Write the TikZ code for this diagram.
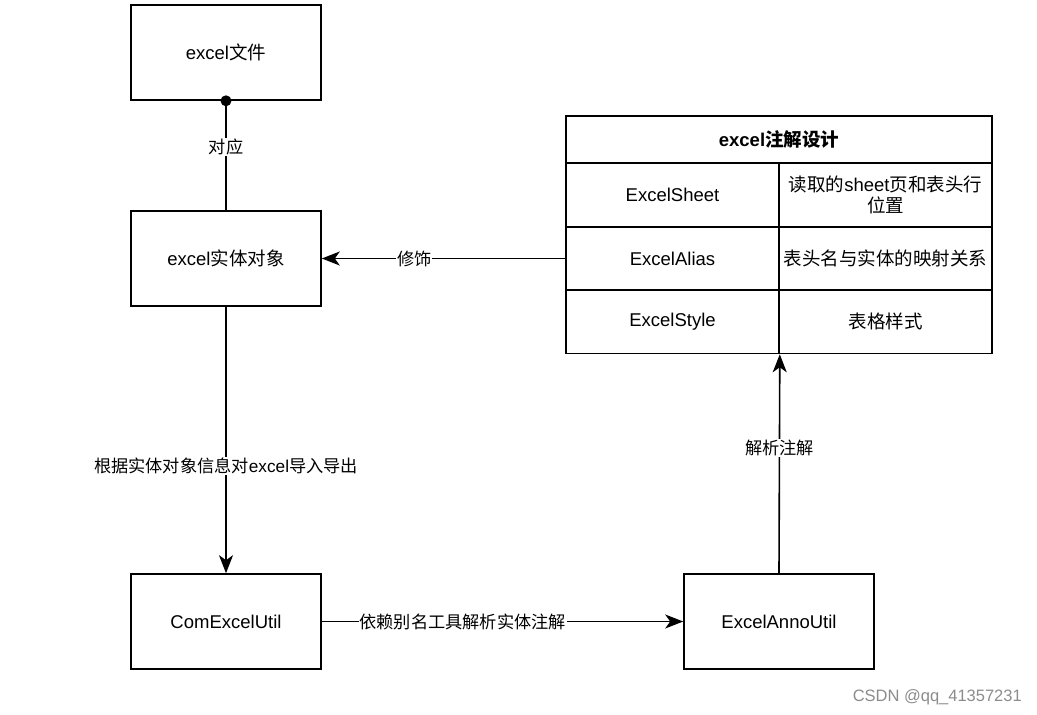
\documentclass[tikz,border=0pt]{standalone}
\usepackage{fontspec}
\setmainfont{Liberation Sans}
\newfontfamily\cjk{Noto Sans CJK SC}
\newcommand\zh[1]{{\cjk #1}}
\usetikzlibrary{arrows.meta}
\begin{document}
\begin{tikzpicture}[x=1pt,y=-1pt,
  fs/.style={font=\fontsize{18.5}{24}\selectfont},
  box/.style={draw, line width=1.6pt, minimum width=190pt, minimum height=95pt, inner sep=0pt, fs},
  cell/.style={draw, line width=1.6pt, minimum width=213pt, minimum height=63.33pt, inner sep=0pt, fs, align=center},
  hcell/.style={draw, line width=1.6pt, minimum width=426pt, minimum height=47pt, inner sep=0pt, fs},
  conn/.style={line width=1.6pt},
  arr/.style={line width=1.6pt, -{Stealth[length=18pt,width=14pt,inset=5pt]}},
  lbl/.style={fill=white, inner sep=1pt, font=\fontsize{17.2}{22}\selectfont}]
\useasboundingbox (0,0) rectangle (1037,715);
\fill[white] (0,0) rectangle (1037,715);
% boxes
\node[box] (file) at (226,52.5) {excel\zh{文件}};
\node[box] (entity) at (226,258.5) {excel\zh{实体对象}};
\node[box] (com) at (226,621.5) {ComExcelUtil};
\node[box] (anno) at (779,621.5) {ExcelAnnoUtil};
% table
\node[hcell] (thead) at (779,139.5) {\textbf{excel\zh{\bfseries 注解设计}}};
\node[cell] (t1l) at (672.5,195) {ExcelSheet};
\node[cell] (t1r) at (885.5,195) {\zh{读取的}sheet\zh{页和表头行}\\[-3pt]\zh{位置}};
\node[cell] (t2l) at (672.5,258.5) {ExcelAlias};
\node[cell] (t2r) at (885.5,258.5) {\zh{表头名与实体的映射关系}};
\node[cell] (t3l) at (672.5,321.8) {ExcelStyle};
\node[cell] (t3r) at (885.5,321.8) {\zh{表格样式}};
% connectors
\draw[conn] (file.south) -- node[lbl, pos=0.42]{\zh{对应}} (entity.north);
\fill (file.south) circle (5.5pt);
\draw[arr] (t2l.west) -- node[lbl, pos=0.62]{\zh{修饰}} (entity.east);
\draw[arr] (entity.south) -- node[lbl, pos=0.597]{\zh{根据实体对象信息对}excel\zh{导入导出}} (com.north);
\draw[arr] (com.east) -- node[lbl, pos=0.39]{\zh{依赖别名工具解析实体注解}} (anno.west);
\draw[arr] (anno.north) -- node[lbl, pos=0.57]{\zh{解析注解}} (t3l.south east);
% watermark
\node[anchor=east, text=black!45, font=\fontsize{16.5}{20}\selectfont, inner sep=0pt] (wm) at (1022,697) {CSDN @qq\_41357231};
\end{tikzpicture}
\end{document}
